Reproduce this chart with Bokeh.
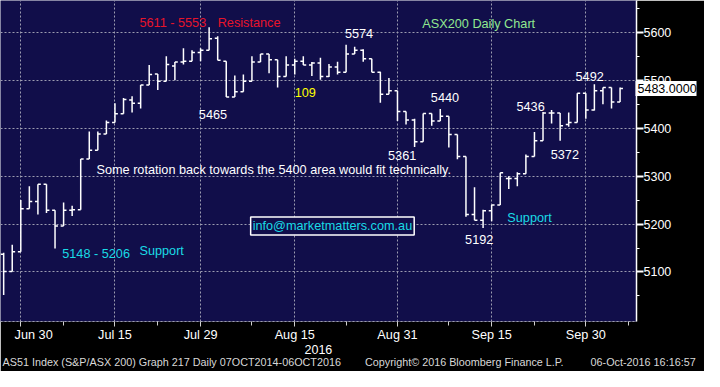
import numpy as np
import pandas as pd
from bokeh.plotting import figure
from bokeh.models import (Range1d, FixedTicker, Label, ColumnDataSource, LinearAxis,
                          NumeralTickFormatter, Title)
from bokeh.embed import file_html
from bokeh.resources import INLINE

# ---------------- data ----------------
start_date = "2016-06-28"
dates = pd.bdate_range(start_date, "2016-10-06")

opens = [5137, 5101, 5142, 5232, 5247, 5283, 5229, 5196, 5229, 5230,
         5336, 5354, 5388, 5412, 5430, 5459, 5452, 5490, 5513, 5498,
         5530, 5538, 5540, 5558, 5563, 5588, 5540, 5465, 5476, 5498,
         5538, 5555, 5543, 5508, 5532, 5540, 5532, 5536, 5508, 5528,
         5517, 5555, 5563, 5545, 5517, 5471, 5478, 5435, 5417, 5372,
         5431, 5415, 5425, 5387, 5341, 5220, 5208, 5228, 5240, 5295,
         5295, 5305, 5341, 5374, 5432, 5432, 5408, 5412, 5473, 5438,
         5478, 5485, 5455]
highs = [5140, 5157, 5250, 5279, 5283, 5283, 5229, 5245, 5238, 5336,
         5393, 5393, 5416, 5452, 5463, 5467, 5490, 5532, 5513, 5550,
         5538, 5567, 5563, 5567, 5611, 5592, 5540, 5510, 5512, 5550,
         5555, 5555, 5543, 5550, 5545, 5550, 5538, 5547, 5534, 5539,
         5574, 5570, 5565, 5545, 5518, 5505, 5478, 5435, 5420, 5431,
         5431, 5440, 5425, 5387, 5341, 5277, 5230, 5240, 5307, 5300,
         5308, 5345, 5392, 5434, 5438, 5432, 5433, 5473, 5473, 5492,
         5485, 5485, 5485]
lows = [5052, 5101, 5142, 5232, 5220, 5223, 5149, 5196, 5217, 5230,
        5336, 5354, 5388, 5412, 5430, 5433, 5441, 5490, 5480, 5498,
        5500, 5533, 5540, 5540, 5563, 5542, 5465, 5465, 5476, 5498,
        5538, 5515, 5485, 5508, 5512, 5532, 5509, 5501, 5507, 5512,
        5517, 5555, 5539, 5517, 5453, 5471, 5415, 5408, 5361, 5372,
        5405, 5415, 5360, 5335, 5215, 5208, 5192, 5206, 5240, 5273,
        5279, 5305, 5341, 5374, 5410, 5374, 5403, 5412, 5420, 5437,
        5450, 5441, 5455]
closes = [5101, 5142, 5232, 5247, 5283, 5229, 5196, 5229, 5230, 5336,
          5354, 5388, 5412, 5430, 5460, 5452, 5490, 5512, 5498, 5533,
          5538, 5540, 5558, 5563, 5587, 5542, 5465, 5476, 5498, 5538,
          5555, 5543, 5508, 5532, 5540, 5532, 5536, 5508, 5528, 5517,
          5555, 5563, 5545, 5517, 5471, 5478, 5435, 5417, 5372, 5431,
          5415, 5425, 5387, 5341, 5220, 5208, 5228, 5240, 5307, 5295,
          5305, 5341, 5374, 5432, 5432, 5405, 5412, 5473, 5438, 5478,
          5485, 5455, 5483]

tick_dates = ["2016-06-30", "2016-07-15", "2016-07-29", "2016-08-15",
              "2016-08-31", "2016-09-15", "2016-09-30"]
tick_labels = ["Jun 30", "Jul 15", "Jul 29", "Aug 15", "Aug 31", "Sep 15", "Sep 30"]
minor_tick_dates = ["2016-07-07", "2016-07-22", "2016-08-08", "2016-08-23",
                    "2016-09-08", "2016-09-22", "2016-10-07"]
price_ticks = [5100, 5200, 5300, 5400, 5500, 5600]
price_minor_ticks = [5050, 5150, 5250, 5350, 5450, 5550, 5650]
last_price = 5483.0
year_label = "2016"
footer_parts = ["AS51 Index (S&P/ASX 200) Graph 217  Daily 07OCT2014-06OCT2016",
                "Copyright\u00a9 2016 Bloomberg Finance L.P.",
                "06-Oct-2016 16:16:57"]

# ---------------- styling ----------------
NAVY = "#110e4a"
GRID = "#9c9cb0"
FONT = "Liberation Sans"
FS = "12.7px"
NB = "\u00a0"

def bidx(d):
    return int(np.busday_count(start_date, d))

x_idx = list(range(len(dates)))
major_idx = [bidx(d) for d in tick_dates]
minor_idx = [bidx(d) for d in minor_tick_dates]

src = ColumnDataSource(dict(
    x=x_idx,
    xl=[i - 0.34 for i in x_idx],
    xr=[i + 0.34 for i in x_idx],
    open=opens, high=highs, low=lows, close=closes,
))

p = figure(width=704, height=371,
           x_range=Range1d(-0.37, 73.92), y_range=Range1d(4996.6, 5666.6),
           y_axis_location="right", toolbar_location=None, output_backend="svg",
           min_border_left=0, min_border_top=0, min_border_right=68, min_border_bottom=50,
           background_fill_color=NAVY, border_fill_color="black",
           outline_line_color=None)

# x axis (first label is pushed right, as in the original, to stay clear of the edge)
xa = p.xaxis[0]
xa.ticker = FixedTicker(ticks=major_idx, minor_ticks=minor_idx)
shown_labels = [NB * 4 + tick_labels[0]] + tick_labels[1:]
xa.major_label_overrides = {i: l for i, l in zip(major_idx, shown_labels)}
xa.axis_line_color = GRID
xa.axis_line_dash = "2 2"
xa.major_tick_line_color = "#d0d0d0"
xa.minor_tick_line_color = "#d0d0d0"
xa.major_tick_in = 0
xa.major_tick_out = 5
xa.minor_tick_in = 0
xa.minor_tick_out = 4
xa.major_label_standoff = 1
xa.major_label_text_color = "white"
xa.major_label_text_font = FONT
xa.major_label_text_font_size = FS

# y axis (right)
ya = p.yaxis[0]
ya.ticker = FixedTicker(ticks=price_ticks, minor_ticks=price_minor_ticks)
ya.axis_line_color = "white"
ya.axis_line_width = 1.5
ya.major_tick_line_color = "white"
ya.major_tick_line_width = 2
ya.major_tick_in = 0
ya.major_tick_out = 7
ya.minor_tick_line_color = "white"
ya.minor_tick_in = 0
ya.minor_tick_out = 3
ya.major_label_standoff = 0
ya.major_label_text_color = "white"
ya.major_label_text_font = FONT
ya.major_label_text_font_size = "12.5px"

# last-price box: an extra right axis with a single thick white tick
pa = LinearAxis(ticker=FixedTicker(ticks=[last_price], minor_ticks=[]),
                formatter=NumeralTickFormatter(format="0.0000"))
pa.axis_line_color = None
pa.major_tick_line_color = "white"
pa.major_tick_line_width = 15
pa.major_tick_in = 39
pa.major_tick_out = 22
pa.minor_tick_line_color = None
pa.minor_tick_in = 0
pa.minor_tick_out = 0
pa.major_label_standoff = -59
pa.major_label_text_color = "black"
pa.major_label_text_font = FONT
pa.major_label_text_font_size = "12.5px"
p.add_layout(pa, "right")

# grids
p.xgrid.ticker = FixedTicker(ticks=major_idx)
p.ygrid.ticker = FixedTicker(ticks=price_ticks)
for g in (p.xgrid[0], p.ygrid[0]):
    g.grid_line_color = GRID
    g.grid_line_dash = "2 2"
    g.grid_line_width = 1

# OHLC bars
p.segment(x0="x", y0="low", x1="x", y1="high", source=src, line_color="white", line_width=1.5)
p.segment(x0="xl", y0="open", x1="x", y1="open", source=src, line_color="white", line_width=1.5)
p.segment(x0="x", y0="close", x1="xr", y1="close", source=src, line_color="white", line_width=1.5)

# annotations
def lab(x, y, text, color, size=FS, **kw):
    l = Label(x=x, y=y, text=text, text_color=color, text_font=FONT,
              text_font_size=size, text_baseline="middle", text_align="left", **kw)
    p.add_layout(l)
    return l

RED = "#e8142a"
CYAN = "#19dbe6"
lab(15.86, 5620, "5611 - 5553", RED)
lab(25.0, 5620, "Resistance", RED)
lab(48.9, 5617, "ASX200 Daily Chart", "#90e890")
lab(39.86, 5597, "5574", "white")
lab(22.8, 5429, "5465", "white")
lab(34.0, 5475, "109", "#ffff00")
lab(49.9, 5465, "5440", "white")
lab(44.9, 5343, "5361", "white")
lab(59.9, 5445, "5436", "white")
lab(63.9, 5345, "5372", "white")
lab(66.8, 5507, "5492", "white")
lab(10.84, 5313, "Some rotation back towards the 5400 area would fit technically.", "white")
lab(6.84, 5137, "5148 - 5206", CYAN)
lab(15.86, 5143, "Support", CYAN)
lab(53.9, 5167, "5192", "white")
lab(58.83, 5213, "Support", CYAN)
lab(28.85, 5196, "info@marketmatters.com.au", CYAN,
    border_line_color="white", border_line_width=1.5, background_fill_color=NAVY, padding=2)

# texts under the axis
p.add_layout(Title(text=year_label, align="left", offset=304, standoff=-4,
                   text_color="white", text_font=FONT, text_font_size="12.5px",
                   text_font_style="normal"), "below")
footer = (NB * 8).join(footer_parts[:2]) + NB * 9 + footer_parts[2]
p.add_layout(Title(text=footer, align="left", offset=2, standoff=4,
                   text_color="#d8d8d8", text_font=FONT, text_font_size="10.8px",
                   text_font_style="normal"), "below")

open("out.html", "w").write(file_html(p, INLINE))
